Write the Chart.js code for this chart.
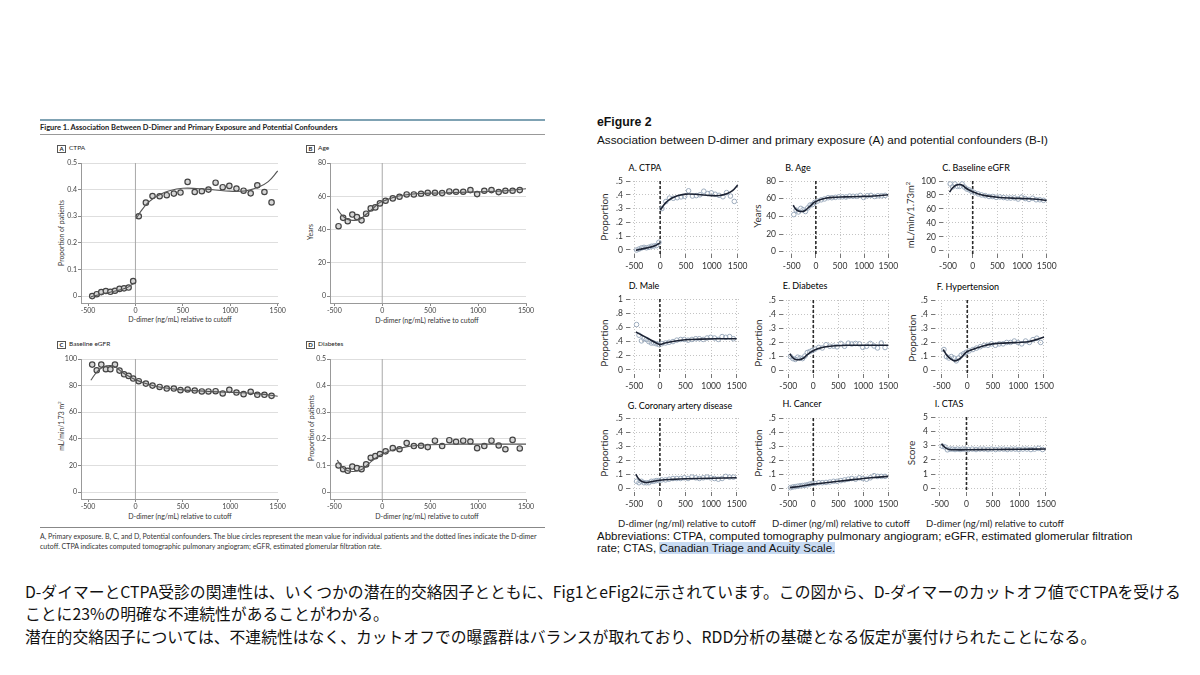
<!DOCTYPE html>
<html>
<head>
<meta charset="utf-8">
<script src="https://cdn.jsdelivr.net/npm/chart.js@4.4.0/dist/chart.umd.min.js"></script>
<style>
  body { margin: 0; width: 1200px; height: 675px; background: #fff; position: relative; overflow: hidden; font-family: Lato, sans-serif; }
  .t { position: absolute; white-space: nowrap; color: #222; }
  canvas { position: absolute; }
  .narrow { font-family: "Liberation Sans Narrow", Lato, sans-serif; }
  .box { position: absolute; border: 1px solid #555; font: bold 6px Lato, sans-serif; width: 7px; height: 6px; line-height: 6px; text-align: center; color: #222; }
  .rot { position: absolute; transform: translate(-50%, -50%) rotate(-90deg); white-space: nowrap; }
  .ctr { position: absolute; transform: translate(-50%, -50%); white-space: nowrap; }
  .arial { font-family: "Liberation Sans", Arial, sans-serif; }
  .jp { font-family: "Noto Sans CJK JP", sans-serif; font-size: 15.8px; color: #111; position: absolute; left: 25px; white-space: nowrap; }
</style>
</head>
<body>

<!-- Figure 1 (left) -->
<div style="position:absolute;left:40px;top:119px;width:505px;height:2px;background:#7fa2b3"></div>
<div class="t narrow" style="left:40px;top:123px;font-size:7.5px;font-weight:bold;color:#222">Figure 1. Association Between D-Dimer and Primary Exposure and Potential Confounders</div>
<div style="position:absolute;left:40px;top:134px;width:505px;height:1px;background:#999"></div>

<div class="box" style="left:57px;top:145px">A</div><div class="t" style="left:69px;top:144px;font-size:6.5px">CTPA</div>
<div class="box" style="left:306px;top:145px">B</div><div class="t" style="left:318px;top:144px;font-size:6.5px">Age</div>
<div class="box" style="left:57px;top:341px">C</div><div class="t" style="left:69px;top:340px;font-size:6.5px">Baseline eGFR</div>
<div class="box" style="left:306px;top:341px">D</div><div class="t" style="left:318px;top:340px;font-size:6.5px">Diabetes</div>

<div class="rot" style="left:61px;top:233px;font-size:6.8px;color:#333">Proportion of patients</div>
<div class="rot" style="left:310px;top:232px;font-size:6.8px;color:#333">Years</div>
<div class="rot" style="left:61px;top:426px;font-size:6.8px;color:#333">mL/min/1.73 m<sup style="font-size:4.5px">2</sup></div>
<div class="rot" style="left:311px;top:428px;font-size:6.8px;color:#333">Proportion of patients</div>

<div class="ctr" style="left:180px;top:319px;font-size:7px;color:#333">D-dimer (ng/mL) relative to cutoff</div>
<div class="ctr" style="left:427px;top:320px;font-size:7px;color:#333">D-dimer (ng/mL) relative to cutoff</div>
<div class="ctr" style="left:180px;top:516px;font-size:7px;color:#333">D-dimer (ng/mL) relative to cutoff</div>
<div class="ctr" style="left:427px;top:516px;font-size:7px;color:#333">D-dimer (ng/mL) relative to cutoff</div>

<div style="position:absolute;left:40px;top:527px;width:505px;height:1px;background:#888"></div>
<div class="t" style="left:40px;top:532px;font-size:7px;color:#333">A, Primary exposure. B, C, and D, Potential confounders. The blue circles represent the mean value for individual patients and the dotted lines indicate the D-dimer</div>
<div class="t" style="left:40px;top:542px;font-size:7px;color:#333">cutoff. CTPA indicates computed tomographic pulmonary angiogram; eGFR, estimated glomerular filtration rate.</div>

<!-- eFigure 2 (right) -->
<div class="t arial" style="left:597px;top:115px;font-size:12.3px;font-weight:bold;color:#111">eFigure 2</div>
<div class="t arial" style="left:597px;top:133px;font-size:11.7px;color:#111">Association between D-dimer and primary exposure (A) and potential confounders (B-I)</div>

<div class="ctr" style="left:645px;top:167px;font-size:9px">A. CTPA</div>
<div class="ctr" style="left:798px;top:167px;font-size:9px">B. Age</div>
<div class="ctr" style="left:976px;top:167px;font-size:9px">C. Baseline eGFR</div>
<div class="ctr" style="left:644px;top:285px;font-size:9px">D. Male</div>
<div class="ctr" style="left:805px;top:285px;font-size:9px">E. Diabetes</div>
<div class="ctr" style="left:968px;top:286px;font-size:9px">F. Hypertension</div>
<div class="ctr" style="left:680px;top:405px;font-size:9px">G. Coronary artery disease</div>
<div class="ctr" style="left:802px;top:403px;font-size:9px">H. Cancer</div>
<div class="ctr" style="left:949px;top:403px;font-size:9px">I. CTAS</div>

<div class="rot" style="left:604px;top:217px;font-size:10px;color:#333">Proportion</div>
<div class="rot" style="left:757px;top:216px;font-size:10px;color:#333">Years</div>
<div class="rot" style="left:910px;top:215px;font-size:9.5px;color:#333">mL/min/1.73m<sup style="font-size:6px">2</sup></div>
<div class="rot" style="left:604px;top:343px;font-size:10px;color:#333">Proportion</div>
<div class="rot" style="left:758px;top:343px;font-size:10px;color:#333">Proportion</div>
<div class="rot" style="left:912px;top:338px;font-size:10px;color:#333">Proportion</div>
<div class="rot" style="left:604px;top:453px;font-size:10px;color:#333">Proportion</div>
<div class="rot" style="left:758px;top:453px;font-size:10px;color:#333">Proportion</div>
<div class="rot" style="left:911px;top:453px;font-size:10px;color:#333">Score</div>

<div class="ctr" style="left:687px;top:523px;font-size:9.5px;color:#222">D-dimer (ng/ml) relative to cutoff</div>
<div class="ctr" style="left:841px;top:523px;font-size:9.5px;color:#222">D-dimer (ng/ml) relative to cutoff</div>
<div class="ctr" style="left:995px;top:523px;font-size:9.5px;color:#222">D-dimer (ng/ml) relative to cutoff</div>

<div class="t arial" style="left:597px;top:530px;font-size:11.5px;color:#111">Abbreviations: CTPA, computed tomography pulmonary angiogram; eGFR, estimated glomerular filtration</div>
<div class="t arial" style="left:597px;top:542px;font-size:11.5px;color:#111">rate; CTAS, <span style="background:#c8dbf3">Canadian Triage and Acuity Scale.</span></div>

<!-- Japanese note -->
<div class="jp" style="top:580px">D-ダイマーとCTPA受診の関連性は、いくつかの潜在的交絡因子とともに、Fig1とeFig2に示されています。この図から、D-ダイマーのカットオフ値でCTPAを受ける</div>
<div class="jp" style="top:602px">ことに23%の明確な不連続性があることがわかる。</div>
<div class="jp" style="top:625px">潜在的交絡因子については、不連続性はなく、カットオフでの曝露群はバランスが取れており、RDD分析の基礎となる仮定が裏付けられたことになる。</div>

<script>
// bins of D-dimer relative to cutoff
const xTicks = [-500, 0, 500, 1000, 1500];
const xBelow = [-456, -408, -360, -312, -264, -216, -168, -120, -72, -24];
const xAbove = [35, 110, 180, 255, 330, 405, 475, 550, 625, 700, 770, 845, 920, 990, 1065, 1140, 1215, 1285, 1360, 1435];

// bin means
const ctpaBelow = [0.0, 0.007, 0.015, 0.019, 0.016, 0.02, 0.027, 0.029, 0.032, 0.056];
const ctpaAbove = [0.30, 0.351, 0.376, 0.375, 0.379, 0.385, 0.389, 0.429, 0.391, 0.394, 0.40, 0.426, 0.409, 0.414, 0.404, 0.396, 0.386, 0.416, 0.391, 0.352];
const ageBelow = [42, 47, 45, 49, 47.5, 45.5, 49.5, 52.7, 53.3, 55.7];
const ageAbove = [57.3, 58.7, 59.7, 61.1, 61.1, 61.5, 62.1, 62.1, 61.9, 62.9, 62.7, 62.7, 63.7, 61.3, 63.3, 63.7, 62.5, 63.3, 63.3, 63.7];
const egfrBelow = [95.8, 91.5, 95.8, 92.3, 92.3, 95.8, 91.3, 88.5, 87.3, 85.3];
const egfrAbove = [83.3, 81.5, 80, 79, 77.8, 77.8, 76.6, 77.1, 76.3, 75.6, 75.6, 75.8, 74.1, 76.8, 74.8, 73.6, 75.3, 73.1, 73.1, 72.3];
const diabBelow = [0.10, 0.086, 0.08, 0.096, 0.09, 0.086, 0.104, 0.129, 0.135, 0.143];
const diabAbove = [0.153, 0.165, 0.161, 0.184, 0.173, 0.174, 0.169, 0.193, 0.173, 0.195, 0.189, 0.193, 0.19, 0.165, 0.173, 0.193, 0.175, 0.161, 0.196, 0.164];
const maleBelow = [0.64, 0.49, 0.41, 0.44, 0.43, 0.40, 0.38, 0.38, 0.37, 0.36];
const maleAbove = [0.37, 0.38, 0.39, 0.40, 0.42, 0.43, 0.43, 0.42, 0.43, 0.44, 0.44, 0.43, 0.45, 0.46, 0.45, 0.43, 0.47, 0.46, 0.47, 0.44];
const htnBelow = [0.15, 0.10, 0.09, 0.10, 0.09, 0.07, 0.09, 0.11, 0.12, 0.13];
const htnAbove = [0.14, 0.15, 0.16, 0.17, 0.18, 0.18, 0.19, 0.18, 0.19, 0.19, 0.20, 0.20, 0.21, 0.20, 0.19, 0.21, 0.20, 0.22, 0.23, 0.20];
const cadBelow = [0.05, 0.04, 0.05, 0.04, 0.04, 0.04, 0.05, 0.05, 0.055, 0.055];
const cadAbove = [0.06, 0.06, 0.065, 0.07, 0.07, 0.07, 0.075, 0.07, 0.08, 0.075, 0.07, 0.075, 0.08, 0.075, 0.07, 0.065, 0.07, 0.085, 0.08, 0.08];
const cancerBelow = [0.005, 0.01, 0.012, 0.015, 0.018, 0.02, 0.022, 0.025, 0.03, 0.035];
const cancerAbove = [0.035, 0.04, 0.04, 0.042, 0.045, 0.05, 0.05, 0.055, 0.06, 0.065, 0.07, 0.065, 0.075, 0.07, 0.065, 0.075, 0.09, 0.085, 0.085, 0.085];
const ctasBelow = [2.95, 2.9, 2.7, 2.75, 2.75, 2.72, 2.75, 2.72, 2.75, 2.75];
const ctasAbove = [2.72, 2.75, 2.72, 2.75, 2.75, 2.72, 2.75, 2.72, 2.75, 2.75, 2.72, 2.75, 2.75, 2.72, 2.75, 2.75, 2.72, 2.75, 2.8, 2.72];

// fitted curves
const ctpaFit1X = [-470, -350, -200, -100, -10];
const ctpaFit1Y = [-0.003, 0.008, 0.02, 0.03, 0.05];
const ctpaFit2X = [5, 60, 115, 180, 250, 350, 500, 740, 950, 1150, 1300, 1400, 1500];
const ctpaFit2Y = [0.29, 0.32, 0.345, 0.365, 0.38, 0.395, 0.405, 0.402, 0.395, 0.395, 0.41, 0.43, 0.47];
const ageFitX = [-470, -420, -360, -300, -240, -170, -100, -30, 30, 100, 200, 350, 600, 900, 1200, 1500];
const ageFitY = [52.5, 48.5, 46, 45.5, 46, 49, 52.5, 56, 57.5, 59, 60.5, 61.5, 62, 62.5, 63, 64.5];
const egfrFitX = [-470, -410, -340, -260, -200, -140, -70, 0, 100, 250, 500, 800, 1100, 1300, 1500];
const egfrFitY = [84, 90, 94, 95, 93.5, 90, 87, 84.5, 81.8, 79, 76.8, 75.5, 74.7, 73.8, 72];
const diabFitX = [-470, -420, -360, -280, -200, -130, -60, 0, 100, 250, 450, 700, 1000, 1500];
const diabFitY = [0.12, 0.095, 0.08, 0.078, 0.088, 0.11, 0.13, 0.142, 0.157, 0.17, 0.177, 0.18, 0.18, 0.18];
const maleFitX = [-470, -350, -220, -100, 0, 100, 250, 500, 800, 1100, 1500];
const maleFitY = [0.535, 0.49, 0.44, 0.39, 0.36, 0.38, 0.40, 0.425, 0.435, 0.44, 0.44];
const htnFitX = [-470, -400, -330, -250, -170, -100, -40, 0, 100, 250, 500, 800, 1000, 1200, 1350, 1500];
const htnFitY = [0.15, 0.11, 0.085, 0.07, 0.08, 0.1, 0.125, 0.136, 0.15, 0.168, 0.19, 0.197, 0.2, 0.205, 0.22, 0.238];
const cadFitX = [-470, -420, -360, -280, -200, -100, 0, 250, 500, 1000, 1500];
const cadFitY = [0.1, 0.07, 0.05, 0.042, 0.045, 0.052, 0.058, 0.064, 0.068, 0.072, 0.075];
const cancerFitX = [-470, -250, 0, 250, 500, 750, 1000, 1250, 1500];
const cancerFitY = [0.005, 0.015, 0.03, 0.04, 0.05, 0.06, 0.07, 0.078, 0.085];
const ctasFitX = [-470, -430, -380, -320, -200, 0, 500, 1000, 1500];
const ctasFitY = [3.12, 2.95, 2.8, 2.72, 2.7, 2.7, 2.72, 2.74, 2.76];

// y ticks
const propTicks = [0, 0.1, 0.2, 0.3, 0.4, 0.5];
const propLabelsL = ['0', '0.1', '0.2', '0.3', '0.4', '0.5'];
const propLabelsR = ['0', '.1', '.2', '.3', '.4', '.5'];
const ageTicks = [0, 20, 40, 60, 80];
const egfrTicks = [0, 20, 40, 60, 80, 100];
const maleTicks = [0, 0.2, 0.4, 0.6, 0.8, 1];
const maleLabels = ['0', '.2', '.4', '.6', '.8', '1'];
const ctasTicks = [0, 1, 2, 3, 4, 5];

function pts(xs, ys) {
  return xs.map((x, i) => ({ x: x, y: ys[i] }));
}

// vertical line at the cutoff
const cutoffLine = {
  id: 'cutoffLine',
  beforeDatasetsDraw(chart, args, opts) {
    const { ctx, chartArea, scales } = chart;
    const x = scales.x.getPixelForValue(0);
    ctx.save();
    ctx.strokeStyle = opts.color;
    ctx.lineWidth = opts.width;
    ctx.setLineDash(opts.dash || []);
    ctx.beginPath();
    ctx.moveTo(x, chartArea.top);
    ctx.lineTo(x, chartArea.bottom);
    ctx.stroke();
    ctx.restore();
  }
};

function panel(p) {
  const right = p.style === 'R';
  const yw = 34, pt = 10, pr = 16, xh = 24;
  const a = p.area;
  const w = a.r - a.l + yw + pr, h = a.b - a.t + pt + xh;
  const cv = document.createElement('canvas');
  cv.width = w; cv.height = h;
  cv.style.left = (a.l - yw) + 'px';
  cv.style.top = (a.t - pt) + 'px';
  cv.style.width = w + 'px';
  cv.style.height = h + 'px';
  document.body.appendChild(cv);

  const datasets = [{
    data: p.points,
    pointRadius: right ? 2.3 : 2.7,
    pointBorderWidth: right ? 1 : 1.2,
    pointBackgroundColor: right ? 'rgba(255,255,255,0)' : '#d6d6d6',
    pointBorderColor: right ? '#9cabbd' : '#444',
    showLine: false,
    order: 2
  }];
  p.fits.forEach(f => datasets.push({
    data: f,
    showLine: true,
    pointRadius: 0,
    tension: 0.4,
    borderColor: right ? '#1b2233' : '#555',
    borderWidth: right ? 1.6 : 1.1,
    order: 1
  }));

  const tickFont = right ? { family: 'Lato', size: 8.5 } : { family: 'Lato', size: 7 };
  new Chart(cv, {
    type: 'scatter',
    data: { datasets: datasets },
    plugins: [cutoffLine],
    options: {
      responsive: false,
      animation: false,
      devicePixelRatio: 1,
      layout: { padding: { top: pt, right: pr, left: 0, bottom: 0 } },
      plugins: {
        legend: { display: false },
        tooltip: { enabled: false },
        cutoffLine: right ? { color: '#2a2a2a', width: 1.6, dash: [3, 2] } : { color: '#a8a8a8', width: 1 }
      },
      scales: {
        x: {
          type: 'linear',
          min: p.x[0], max: p.x[1],
          afterBuildTicks: s => { s.ticks = xTicks.map(v => ({ value: v })); },
          afterFit: s => { s.height = xh; s.paddingLeft = 0; s.paddingRight = 0; },
          grid: right
            ? { display: true, drawOnChartArea: true, color: '#c4c4c4', tickLength: 4, tickColor: '#777' }
            : { display: true, drawOnChartArea: false, tickLength: 3, color: '#888' },
          border: right ? { display: false, dash: [1, 2] } : { display: true, color: '#999' },
          ticks: {
            font: tickFont, color: right ? '#333' : '#444', padding: right ? 3 : 1, maxRotation: 0, autoSkip: false,
            callback: v => String(v)
          }
        },
        y: {
          min: p.y[0], max: p.y[1],
          afterBuildTicks: s => { s.ticks = p.yTicks.map(v => ({ value: v })); },
          afterFit: s => { s.width = yw; s.paddingTop = 0; s.paddingBottom = 0; },
          grid: right
            ? { display: true, color: '#c4c4c4', tickLength: 4, tickColor: '#777' }
            : { display: true, color: '#dedede', tickLength: 3, tickColor: '#888' },
          border: right ? { display: false, dash: [1, 2] } : { display: true, color: '#999' },
          ticks: {
            font: tickFont, color: right ? '#333' : '#444', padding: right ? 3 : 1, autoSkip: false,
            callback: (v, i) => p.yLabels[i]
          }
        }
      }
    }
  });
}

const ctpaPts = pts(xBelow, ctpaBelow).concat(pts(xAbove, ctpaAbove));
const agePts = pts(xBelow, ageBelow).concat(pts(xAbove, ageAbove));
const egfrPts = pts(xBelow, egfrBelow).concat(pts(xAbove, egfrAbove));
const diabPts = pts(xBelow, diabBelow).concat(pts(xAbove, diabAbove));
const ctpaFits = [pts(ctpaFit1X, ctpaFit1Y), pts(ctpaFit2X, ctpaFit2Y)];

// Figure 1
panel({ style: 'L', area: { l: 81, t: 163, r: 278, b: 303 }, x: [-574, 1503], y: [-0.026, 0.5], yTicks: propTicks, yLabels: propLabelsL, points: ctpaPts, fits: ctpaFits });
panel({ style: 'L', area: { l: 330, t: 163, r: 526, b: 303 }, x: [-545, 1500], y: [-4.2, 80], yTicks: ageTicks, yLabels: ageTicks.map(String), points: agePts, fits: [pts(ageFitX, ageFitY)] });
panel({ style: 'L', area: { l: 81, t: 359, r: 278, b: 499 }, x: [-574, 1503], y: [-5.2, 100], yTicks: egfrTicks, yLabels: egfrTicks.map(String), points: egfrPts, fits: [pts(egfrFitX, egfrFitY)] });
panel({ style: 'L', area: { l: 330, t: 359, r: 526, b: 499 }, x: [-545, 1500], y: [-0.026, 0.5], yTicks: propTicks, yLabels: propLabelsL, points: diabPts, fits: [pts(diabFitX, diabFitY)] });

// eFigure 2
panel({ style: 'R', area: { l: 630, t: 181, r: 740, b: 254 }, x: [-583, 1545], y: [-0.029, 0.5], yTicks: propTicks, yLabels: propLabelsR, points: ctpaPts, fits: ctpaFits });
panel({ style: 'R', area: { l: 783, t: 181, r: 890, b: 254 }, x: [-680, 1535], y: [-2.6, 80], yTicks: ageTicks, yLabels: ageTicks.map(String), points: agePts, fits: [pts(ageFitX, ageFitY)] });
panel({ style: 'R', area: { l: 943, t: 181, r: 1048, b: 254 }, x: [-602, 1526], y: [-4.7, 100], yTicks: egfrTicks, yLabels: egfrTicks.map(String), points: egfrPts, fits: [pts(egfrFitX, egfrFitY)] });
panel({ style: 'R', area: { l: 630, t: 299, r: 740, b: 374 }, x: [-584, 1564], y: [-0.057, 1], yTicks: maleTicks, yLabels: maleLabels, points: pts(xBelow, maleBelow).concat(pts(xAbove, maleAbove)), fits: [pts(maleFitX, maleFitY)] });
panel({ style: 'R', area: { l: 783, t: 300, r: 890, b: 374 }, x: [-606, 1534], y: [-0.023, 0.5], yTicks: propTicks, yLabels: propLabelsR, points: diabPts, fits: [pts(diabFitX, diabFitY)] });
panel({ style: 'R', area: { l: 935, t: 300, r: 1047, b: 374 }, x: [-631, 1559], y: [-0.023, 0.5], yTicks: propTicks, yLabels: propLabelsR, points: pts(xBelow, htnBelow).concat(pts(xAbove, htnAbove)), fits: [pts(htnFitX, htnFitY)] });
panel({ style: 'R', area: { l: 630, t: 418, r: 740, b: 492 }, x: [-584, 1564], y: [-0.026, 0.5], yTicks: propTicks, yLabels: propLabelsR, points: pts(xBelow, cadBelow).concat(pts(xAbove, cadAbove)), fits: [pts(cadFitX, cadFitY)] });
panel({ style: 'R', area: { l: 783, t: 418, r: 890, b: 492 }, x: [-606, 1534], y: [-0.026, 0.5], yTicks: propTicks, yLabels: propLabelsR, points: pts(xBelow, cancerBelow).concat(pts(xAbove, cancerAbove)), fits: [pts(cancerFitX, cancerFitY)] });
panel({ style: 'R', area: { l: 935, t: 417, r: 1048, b: 492 }, x: [-594, 1538], y: [-0.26, 5], yTicks: ctasTicks, yLabels: ctasTicks.map(String), points: pts(xBelow, ctasBelow).concat(pts(xAbove, ctasAbove)), fits: [pts(ctasFitX, ctasFitY)] });
</script>
</body>
</html>
